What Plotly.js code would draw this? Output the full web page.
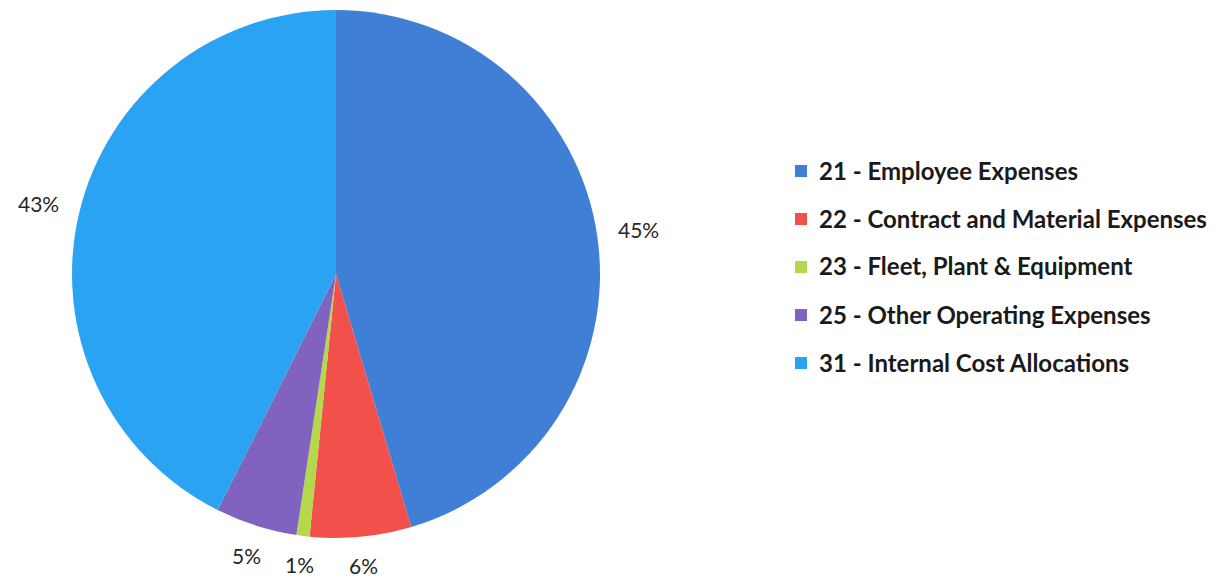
<!DOCTYPE html>
<html>
<head>
<meta charset="utf-8">
<script src="https://cdn.plot.ly/plotly-3.0.1.min.js"></script>
<style>html,body{margin:0;padding:0;background:#fff;}#chart{width:1230px;height:578px;}</style>
</head>
<body>
<div id="chart"></div>
<script>
var categories = [
  "21 - Employee Expenses",
  "22 - Contract and Material Expenses",
  "23 - Fleet, Plant & Equipment",
  "25 - Other Operating Expenses",
  "31 - Internal Cost Allocations"
];
var shares = [45.4, 6.2, 0.8, 5.0, 42.6];
var colors = ["#3f7fd6", "#f2514b", "#b5d84a", "#8062bf", "#2ba3f3"];

var W = 1230, H = 578;
var pieCx = 336, pieCy = 274, pieR = 264;

var trace = {
  type: "pie",
  values: shares,
  labels: categories,
  marker: {colors: colors, line: {width: 0}},
  sort: false,
  direction: "clockwise",
  rotation: 0,
  textinfo: "none",
  showlegend: false,
  hoverinfo: "label+percent",
  domain: {x: [(pieCx - pieR) / W, (pieCx + pieR) / W], y: [1 - (pieCy + pieR) / H, 1 - (pieCy - pieR) / H]}
};

var annotations = [], shapes = [];

// Percentage labels placed outside each slice at its mid-angle (Excel style)
var total = shares.reduce(function (a, b) { return a + b; }, 0);
var cum = 0;
shares.forEach(function (v) {
  var frac = v / total;
  var mid = (cum + frac / 2) * 2 * Math.PI;
  cum += frac;
  var txt = Math.round(frac * 100) + "%";
  var halfW = txt.length * 7.5, halfH = 9;
  var s = Math.sin(mid), c = Math.cos(mid);
  var d = pieR + 18 + Math.abs(s) * halfW + Math.abs(c) * halfH;
  var px = pieCx + d * s, py = pieCy - d * c;
  annotations.push({
    xref: "paper", yref: "paper", x: px / W, y: 1 - py / H,
    xanchor: "center", yanchor: "middle", showarrow: false,
    text: txt, borderpad: 0,
    font: {family: "Lato, 'Open Sans', sans-serif", size: 21, color: "#262626"}
  });
});

// Legend
var legX = 817, legY0 = 170, legStep = 48, sq = 12;
categories.forEach(function (c, i) {
  var y = legY0 + i * legStep;
  annotations.push({
    xref: "paper", yref: "paper", x: legX / W, y: 1 - y / H,
    xanchor: "left", yanchor: "middle", showarrow: false,
    text: "<b>" + c.replace(/&/g, "&amp;") + "</b>",
    font: {family: "Lato, 'Open Sans', sans-serif", size: 24, color: "#1a1a1a"}
  });
  shapes.push({
    type: "rect", xref: "paper", yref: "paper",
    x0: (legX - 22) / W, x1: (legX - 22 + sq) / W,
    y0: 1 - (y + 1 + sq / 2) / H, y1: 1 - (y + 1 - sq / 2) / H,
    fillcolor: colors[i], line: {width: 0}
  });
});

var layout = {
  width: W, height: H,
  margin: {l: 0, r: 0, t: 0, b: 0},
  paper_bgcolor: "#ffffff",
  showlegend: false,
  annotations: annotations,
  shapes: shapes
};
Plotly.newPlot("chart", [trace], layout, {displayModeBar: false, staticPlot: true});
</script>
</body>
</html>
